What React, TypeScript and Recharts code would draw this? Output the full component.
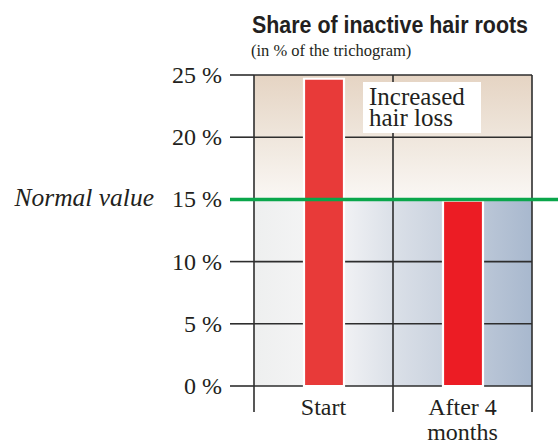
import React from 'react';
import { BarChart, Bar, XAxis, YAxis, CartesianGrid, ReferenceLine, Cell } from 'recharts';

const categories = ['Start', 'After 4 months'];
const xLabelLines = [['Start'], ['After 4', 'months']];
const shareValues = [24.7, 14.9];
const barColors = ['#e83a39', '#ec1c24'];
const yTicks = [0, 5, 10, 15, 20, 25];
const normalValue = 15;
const normalLabel = 'Normal value';
const titleText = 'Share of inactive hair roots';
const subtitleText = '(in % of the trichogram)';
const annotationLines = ['Increased', 'hair loss'];

const data = categories.map((c, i) => ({ name: c, value: shareValues[i] }));

const SERIF = '"Liberation Serif", "Times New Roman", serif';
const LINE = '#2e2e2e';
const GREEN = '#0aa64b';

// stripes from top (25–20, 20–15, 15–10, 10–5, 5–0)
const stripeFills = ['url(#topGrad1)', 'url(#topGrad2)', 'url(#botGrad)', 'url(#botGrad)', 'url(#botGrad)', 'none'];

const YTick = (props: any) => {
  const { x, y, payload } = props;
  const v = payload.value;
  return (
    <g>
      {v !== normalValue && <line x1={x + 8} x2={x + 32} y1={y} y2={y} stroke={LINE} strokeWidth={1.6} />}
      <text x={x} y={y} dy={8} textAnchor="end" fontFamily={SERIF} fontSize={24} fill="#231f20">
        {v} %
      </text>
      {v === normalValue && (
        <text x={x - 68} y={y} dy={7} textAnchor="end" fontFamily={SERIF} fontStyle="italic" fontSize={25.5} fill="#231f20">
          {normalLabel}
        </text>
      )}
    </g>
  );
};

const XTick = (props: any) => {
  const { x, y, index, width, visibleTicksCount } = props;
  const lines = xLabelLines[index] || [];
  const half = Number(width) / Number(visibleTicksCount || 1) / 2;
  const edges = index === (visibleTicksCount || 1) - 1 ? [x - half, x + half] : [x - half];
  return (
    <g>
      {Number.isFinite(half) &&
        edges.map((ex, i) => <line key={'e' + i} x1={ex} x2={ex} y1={y} y2={y + 26} stroke={LINE} strokeWidth={1.6} />)}
      {lines.map((l, i) => (
        <text key={i} x={x} y={y + 29 + i * 25} textAnchor="middle" fontFamily={SERIF} fontSize={24} fill="#231f20">
          {l}
        </text>
      ))}
    </g>
  );
};

const GreenLine = (props: any) => {
  const { x1, x2, y1, y2 } = props;
  return <line x1={Math.min(x1, x2) - 24} x2={Math.max(x1, x2) + 26} y1={y1} y2={y2} stroke={GREEN} strokeWidth={3.5} />;
};

export default function App() {
  return (
    <div style={{ position: 'absolute', left: 0, top: 0, width: 558, height: 444, background: '#fff' }}>
      <svg width={0} height={0} style={{ position: 'absolute', left: 0, top: 0 }}>
        <defs>
          <linearGradient id="topGrad1" x1="0" y1="0" x2="0" y2="1">
            <stop offset="0%" stopColor="#e5d4c3" />
            <stop offset="100%" stopColor="#efe6dc" />
          </linearGradient>
          <linearGradient id="topGrad2" x1="0" y1="0" x2="0" y2="1">
            <stop offset="0%" stopColor="#efe6dc" />
            <stop offset="100%" stopColor="#faf7f4" />
          </linearGradient>
          <linearGradient id="botGrad" x1="0" y1="0" x2="1" y2="0">
            <stop offset="0%" stopColor="#eeefef" />
            <stop offset="28%" stopColor="#f6f6f7" />
            <stop offset="50%" stopColor="#dbe0e8" />
            <stop offset="75%" stopColor="#c3cddb" />
            <stop offset="100%" stopColor="#a8b8ce" />
          </linearGradient>
        </defs>
      </svg>
      <BarChart width={558} height={444} data={data} margin={{ top: 75, right: 26, bottom: 0, left: 0 }}>
        <CartesianGrid
          xAxisId="cat"
          yAxisId="y"
          stroke={LINE}
          strokeWidth={1.6}
          strokeDasharray=""
          horizontalFill={stripeFills}
          fillOpacity={1}
          verticalCoordinatesGenerator={({ offset }: any) => [
            offset.left,
            offset.left + offset.width / 2,
            offset.left + offset.width,
          ]}
        />
        <XAxis
          xAxisId="cat"
          dataKey="name"
          height={58}
          axisLine={false}
          tickLine={false}
          tickSize={0}
          tickMargin={0}
          interval={0}
          tick={<XTick />}
        />
        <YAxis
          yAxisId="y"
          type="number"
          domain={[0, 25]}
          ticks={yTicks}
          width={254}
          axisLine={false}
          tickLine={false}
          tickSize={24}
          tickMargin={8}
          tick={<YTick />}
        />
        <ReferenceLine yAxisId="y" xAxisId="cat" y={normalValue} shape={<GreenLine />} />
        <Bar xAxisId="cat" yAxisId="y" dataKey="value" barSize={40} stroke="#ffffff" strokeWidth={2.2} isAnimationActive={false}>
          {data.map((d, i) => (
            <Cell key={i} fill={barColors[i]} />
          ))}
        </Bar>
      </BarChart>
      <svg width={558} height={444} style={{ position: 'absolute', left: 0, top: 0, pointerEvents: 'none' }}>
        <text x={252} y={33} fontFamily={'"Liberation Sans Narrow", "Liberation Sans", Arial, sans-serif'} fontWeight="bold" fontSize={23} textLength={276} lengthAdjust="spacingAndGlyphs" fill="#231f20">
          {titleText}
        </text>
        <text x={251} y={56} fontFamily={SERIF} fontSize={16.5} fill="#231f20">
          {subtitleText}
        </text>
        <rect x={363} y={82} width={118} height={51} fill="#ffffff" />
        {annotationLines.map((l, i) => (
          <text key={i} x={369} y={105 + i * 21} fontFamily={SERIF} fontSize={25} fill="#231f20">
            {l}
          </text>
        ))}
      </svg>
    </div>
  );
}
